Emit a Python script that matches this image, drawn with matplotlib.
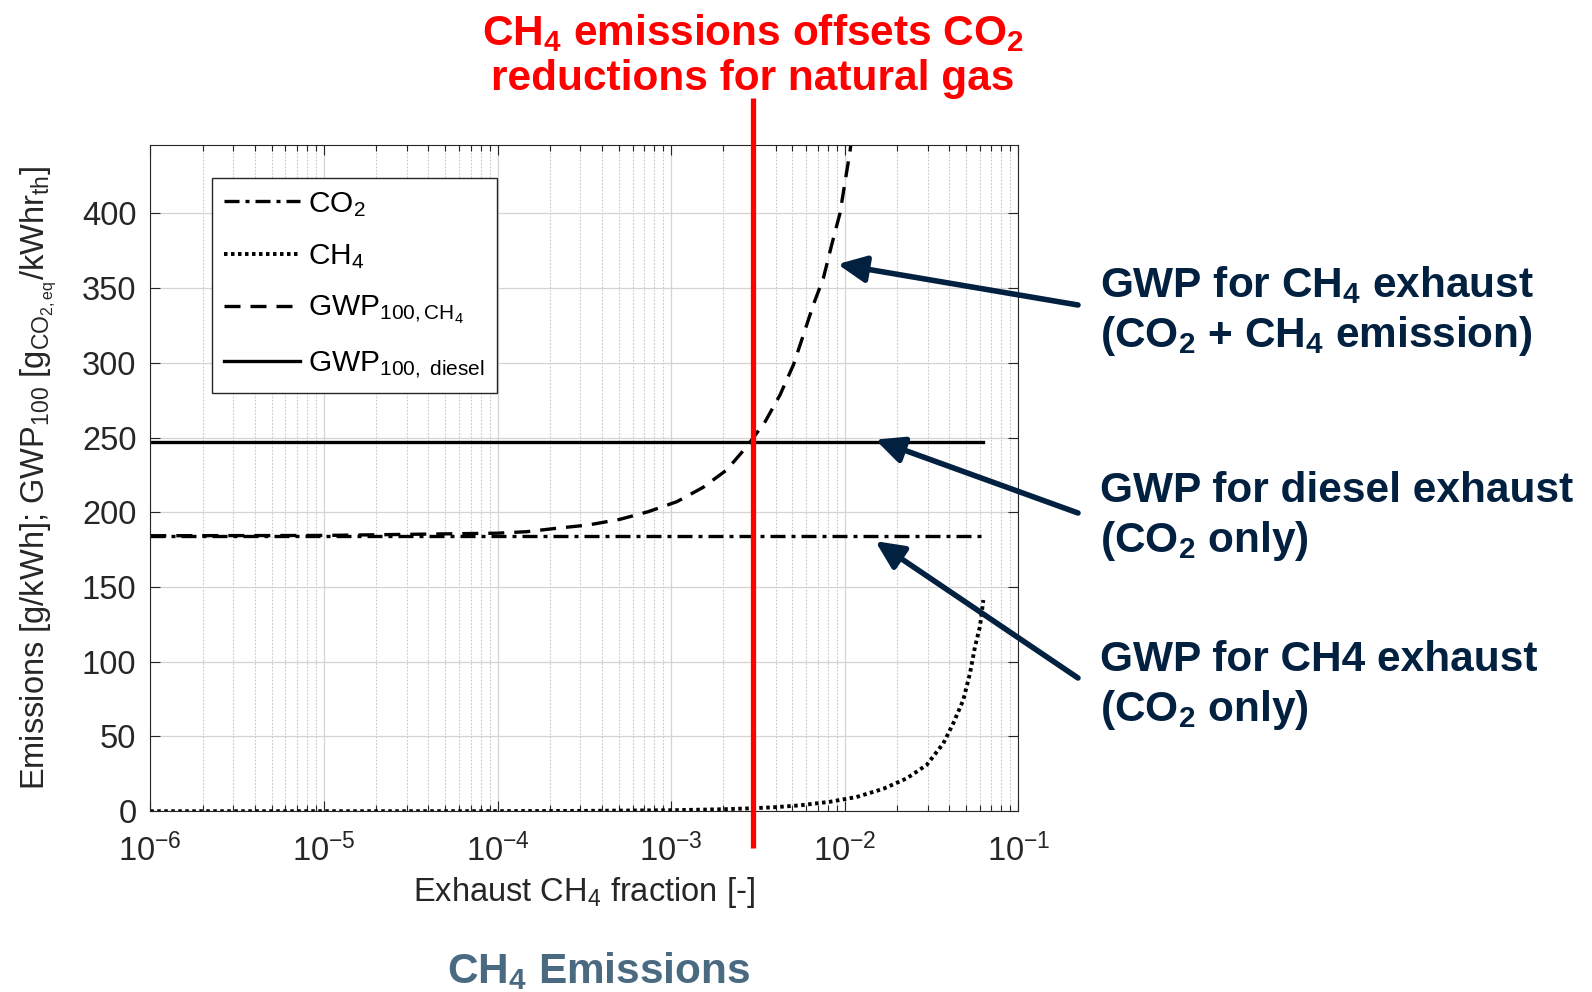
import matplotlib
matplotlib.use("Agg")
import matplotlib.pyplot as plt
import matplotlib.transforms as mtransforms
from matplotlib.lines import Line2D

plt.rcParams['font.family'] = ['Liberation Sans', 'DejaVu Sans']
plt.rcParams['mathtext.fontset'] = 'custom'
plt.rcParams['mathtext.rm'] = 'Liberation Sans'
plt.rcParams['mathtext.it'] = 'Liberation Sans'
plt.rcParams['mathtext.bf'] = 'Liberation Sans:bold'

# ---- data ----
x_line = [1e-6, 0.0630]
co2_val = [184.3, 184.3]
diesel_val = [247.3, 247.3]

ch4_x = [1e-6, 1e-5, 1e-4, 3e-4, 1e-3, 2e-3, 3e-3, 4e-3, 5.5e-3, 8.22e-3,
         0.0117, 0.0167, 0.0228, 0.0297, 0.0370, 0.0422, 0.0482, 0.0527, 0.0563,
         0.0601, 0.0629]
ch4_y = [0.00075, 0.0075, 0.05, 0.2, 0.65, 1.3, 2.0, 2.7, 3.9, 6.3,
         9.5, 15, 22, 31, 45.4, 58.8, 74.4, 92.3, 110, 123.4, 141.3]

gwp_x = [1e-6, 1e-5, 9.9e-5, 1.47e-4, 2.19e-4, 3.34e-4, 5.08e-4, 7.39e-4, 1.08e-3,
         1.53e-3, 2.09e-3, 2.73e-3, 3.48e-3, 4.24e-3, 5.06e-3, 5.78e-3, 6.59e-3,
         7.53e-3, 8.41e-3, 9.39e-3, 0.01072, 0.0115]
gwp_y = [184.3, 184.5, 186.0, 187.0, 189.3, 191.5, 195.3, 200.4, 207.1,
         216.7, 228.3, 244.0, 260.6, 278.5, 298.5, 318.6, 338.7,
         356.5, 378.8, 400.0, 441.2, 470.0]

red_x = 0.00296
x_ticks = [1e-6, 1e-5, 1e-4, 1e-3, 1e-2, 1e-1]
y_ticks = [0, 50, 100, 150, 200, 250, 300, 350, 400]

NAVY = '#02203F'
SLATE = '#4A6A82'
TXT = '#262626'

fig = plt.figure(figsize=(15.92, 9.92), dpi=100)
W, H = 1592, 992
L, R, T, B = 150.3, 1018.3, 145.2, 811.2
ax = fig.add_axes([L / W, (H - B) / H, (R - L) / W, (B - T) / H])

ax.set_xscale('log')
ax.set_xlim(1e-6, 1e-1)
ax.set_ylim(0, 445.6)
ax.set_xticks(x_ticks)
ax.set_yticks(y_ticks)

ax.grid(True, which='major', axis='both', color='#d4d4d4', lw=0.9, ls='-')
ax.grid(True, which='minor', axis='x', color='#c8c8c8', lw=0.8, ls=(0, (1.5, 1.5)))
ax.tick_params(which='both', direction='in', top=True, right=True, colors=TXT,
               labelsize=23.5, width=0.8)
ax.tick_params(which='major', length=7)
ax.tick_params(which='minor', length=4)
ax.tick_params(axis='x', pad=16)
ax.tick_params(axis='y', pad=10)
for s in ax.spines.values():
    s.set_color(TXT)
    s.set_linewidth(0.8)

lw = 2.4
ax.plot(x_line, co2_val, color='black', lw=lw, ls=(0, (4.5, 1.8, 1.2, 1.8)),
        label=r'CO$_2$')
ax.plot(ch4_x, ch4_y, color='black', lw=2.8, ls=(0, (0.9, 0.9)), label=r'CH$_4$')
ax.plot(gwp_x, gwp_y, color='black', lw=lw, ls=(0, (4.8, 3)),
        label=r'GWP$_{100,\mathrm{CH}_4}$')
ax.plot(x_line, diesel_val, color='black', lw=lw, ls='-',
        label=r'GWP$_{100,\ \mathrm{diesel}}$')

leg = ax.legend(loc='upper left', bbox_to_anchor=((212 - L) / (R - L), 1 - (178 - T) / (B - T)),
                fontsize=21.5, frameon=True, fancybox=False, edgecolor=TXT,
                framealpha=1, handlelength=2.55, handletextpad=0.27, labelspacing=0.78,
                borderpad=0.4, borderaxespad=0)
leg.get_frame().set_linewidth(1.0)

ax.set_xlabel(r'Exhaust CH$_4$ fraction [-]', fontsize=23.5, color=TXT)
ax.xaxis.set_label_coords(0.5, (B - 901) / (B - T))
ax.xaxis.label.set_va('baseline')
ax.set_ylabel(r'Emissions [g/kWh]; GWP$_{100}$ [g$_{\mathrm{CO}_{2,\mathrm{eq}}}$/kWhr$_{\mathrm{th}}$]',
              fontsize=23.5, color=TXT)
ax.yaxis.set_label_coords((38 - L) / (R - L), 0.5)
ax.yaxis.label.set_va('center')

# red vertical line
trans = mtransforms.blended_transform_factory(ax.transData, fig.transFigure)
fig.add_artist(Line2D([red_x, red_x], [(H - 848) / H, (H - 98) / H], transform=trans,
                      color='#FF0000', lw=3.8, solid_capstyle='butt'))

BF = 30.5
# title
fig.text(753 / W, 1 - 45 / H, r'CH$_\mathbf{4}$ emissions offsets CO$_\mathbf{2}$',
         ha='center', va='baseline', fontsize=BF, fontweight='bold', color='#FF0000')
fig.text(753 / W, 1 - 90 / H, 'reductions for natural gas',
         ha='center', va='baseline', fontsize=BF, fontweight='bold', color='#FF0000')

# annotations
ann_kw = dict(ha='left', va='baseline', fontsize=BF, fontweight='bold', color=NAVY)
fig.text(1100 / W, 1 - 297 / H, r'GWP for CH$_\mathbf{4}$ exhaust', **ann_kw)
fig.text(1100 / W, 1 - 347 / H, r'(CO$_\mathbf{2}$ + CH$_\mathbf{4}$ emission)', **ann_kw)
fig.text(1100 / W, 1 - 502 / H, 'GWP for diesel exhaust', **ann_kw)
fig.text(1100 / W, 1 - 552 / H, r'(CO$_\mathbf{2}$ only)', **ann_kw)
fig.text(1100 / W, 1 - 671 / H, 'GWP for CH4 exhaust', **ann_kw)
fig.text(1100 / W, 1 - 721 / H, r'(CO$_\mathbf{2}$ only)', **ann_kw)

arrow_heads = [(0.0091, 366), (0.0150, 248.6), (0.0150, 180.7)]
arrow_tails = [(1078, H - 305), (1078, H - 513), (1078, H - 678)]
for (hx, hy), (tx, ty) in zip(arrow_heads, arrow_tails):
    ax.annotate('', xy=(hx, hy), xycoords='data', xytext=(tx, ty),
                textcoords='figure pixels', annotation_clip=False,
                arrowprops=dict(arrowstyle='-|>,head_length=1.7,head_width=0.8',
                                color=NAVY, lw=4, shrinkA=0, shrinkB=0))

fig.text(599 / W, 1 - 983 / H, r'CH$_\mathbf{4}$ Emissions', ha='center', va='baseline',
         fontsize=BF, fontweight='bold', color=SLATE)

fig.savefig('out.png', dpi=100)
